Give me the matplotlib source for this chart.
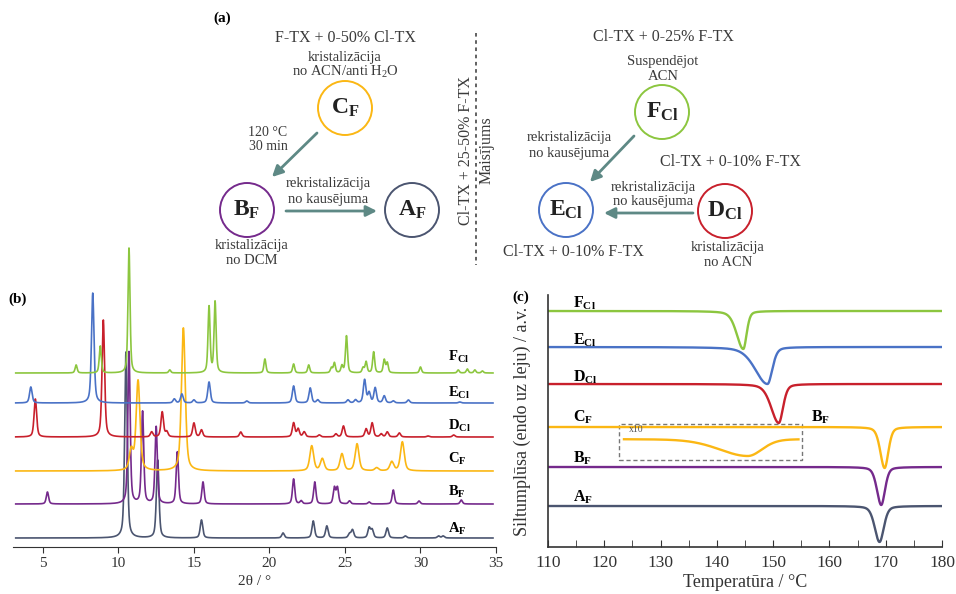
import numpy as np
import matplotlib
matplotlib.use('Agg')
import matplotlib.pyplot as plt
from matplotlib.patches import Circle, Rectangle

plt.rcParams['font.family'] = ['Liberation Serif', 'DejaVu Serif']
plt.rcParams['mathtext.fontset'] = 'custom'
plt.rcParams['mathtext.rm'] = 'Liberation Serif'
plt.rcParams['mathtext.it'] = 'Liberation Serif:italic'
plt.rcParams['mathtext.bf'] = 'Liberation Serif:bold'

# phases, bottom to top
phases = ['A', 'B', 'C', 'D', 'E', 'F']
subs = ['F', 'F', 'F', 'Cl', 'Cl', 'Cl']
colors = ['#4b5570', '#752a8c', '#fbb714', '#c8202c', '#4a72c6', '#8cc63f']

# (b) PXRD peak lists: 2theta and height (a.u.)
af_pos = [10.5, 12.6, 15.5, 20.9, 22.9, 23.8, 25.3, 25.5, 26.6, 26.8, 27.8, 29.0, 31.2, 31.5]
af_int = [186, 78, 18, 5, 17, 12, 4, 8, 10, 8, 10, 2, 2, 2]
bf_pos = [5.3, 10.7, 11.6, 12.5, 13.9, 15.6, 21.6, 22.1, 23.0, 24.3, 24.5, 25.3, 26.6, 28.2, 29.9, 32.7]
bf_int = [12, 152, 92, 77, 52, 22, 25, 3, 22, 16, 16, 3, 2, 14, 3, 4]
cf_pos = [10.85, 11.3, 14.3, 22.8, 23.5, 24.8, 25.8, 27.1, 28.1, 28.8]
cf_int = [20, 90, 143, 25, 12, 17, 27, 3, 9, 29]
dcl_pos = [4.5, 9.0, 12.2, 12.9, 13.2, 15.0, 15.5, 18.1, 21.6, 21.9, 22.3, 23.3, 24.4, 24.9,
           26.4, 26.8, 27.4, 27.8, 28.6, 30.5, 32.2]
dcl_int = [38, 117, 5, 25, 5, 14, 7, 5, 14, 8, 5, 2, 3, 11, 8, 14, 3, 5, 4, 1, 2]
ecl_pos = [4.2, 8.3, 13.7, 14.2, 15.0, 16.0, 18.5, 21.6, 22.7, 23.2, 25.2, 25.7, 26.3, 26.6,
           27.0, 27.6, 28.2, 29.2, 32.6]
ecl_int = [16, 110, 4, 9, 3, 21, 2, 17, 15, 3, 3, 3, 23, 10, 15, 7, 2, 3, 1]
fcl_pos = [7.2, 8.8, 10.7, 13.4, 16.0, 16.4, 19.7, 21.6, 22.6, 24.1, 24.3, 24.8, 25.1, 26.2,
           26.4, 26.9, 27.6, 27.8, 30.0, 32.5, 33.1, 33.6, 34.1]
fcl_int = [8, 27, 125, 3, 66, 71, 14, 9, 8, 5, 10, 7, 37, 5, 11, 21, 13, 10, 6, 3, 4, 3, 2]
xrd_pos = [af_pos, bf_pos, cf_pos, dcl_pos, ecl_pos, fcl_pos]
xrd_int = [af_int, bf_int, cf_int, dcl_int, ecl_int, fcl_int]
xrd_hwhm = [0.1, 0.09, 0.15, 0.1, 0.1, 0.08]
xrd_offset = [9, 43, 76, 110, 144, 174]

# (c) DSC: peak temperature, depth, left/right half widths
dsc_tpeak = [168.9, 169.2, 169.8, 151.0, 149.0, 144.7]
dsc_depth = [36, 38, 41, 39, 37, 38]
dsc_wl = [1.0, 0.9, 0.9, 1.6, 2.6, 1.4]
dsc_wr = [0.9, 0.8, 0.8, 0.9, 1.0, 0.7]
dsc_offset = [41, 80, 120, 163, 200, 236]
# C_F x10 inset
ins_tpeak, ins_depth, ins_wl, ins_wr, ins_offset = 145.5, 17, 6.0, 3.0, 108


def pv(x, c, h, wl, wr, eta=0.5):
    w = np.where(x < c, wl, wr)
    u = (x - c) / w
    return h * (eta / (1 + u ** 2) + (1 - eta) * np.exp(-np.log(2) * u ** 2))


def lab(p, s):
    return r'$\mathbf{%s}_{\mathbf{%s}}$' % (p, s)


fig = plt.figure(figsize=(9.56, 5.94), dpi=100)

# ---------- (a) scheme ----------
axa = fig.add_axes([0, 0, 1, 1])
axa.set_xlim(0, 956)
axa.set_ylim(594, 0)
axa.axis('off')
tc = '#3a3a3a'
ac = '#5e8985'
axa.text(213, 18, '(a)', fontsize=11, fontweight='bold', ha='left', va='center')

circles = {'C': (345, 108, 'F', 2), 'B': (247, 210, 'F', 1), 'A': (412, 210, 'F', 0),
           'F': (662, 112, 'Cl', 5), 'E': (566, 210, 'Cl', 4), 'D': (725, 211, 'Cl', 3)}
for p, (cx, cy, s, ci) in circles.items():
    axa.add_patch(Circle((cx, cy), 27, fill=False, ec=colors[ci], lw=1.4))
    axa.text(cx, cy, lab(p, s), fontsize=17, ha='center', va='center', color='#222')


def txt(x, y, s, fs=10.5):
    axa.text(x, y, s, fontsize=fs, ha='center', va='center', color=tc)


txt(345, 38, 'F-TX + 0-50% Cl-TX', 11.5)
txt(345, 57, 'kristalizācija')
txt(345, 72, r'no ACN/anti H$_2$O')
txt(268, 132, '120 °C', 10)
txt(268, 147, '30 min', 10)
txt(328, 184, 'rekristalizācija')
txt(328, 199, 'no kausējuma')
txt(252, 246, 'kristalizācija')
txt(252, 261, 'no DCM')
txt(663, 37, 'Cl-TX + 0-25% F-TX', 11.5)
txt(663, 62, 'Suspendējot')
txt(663, 77, 'ACN')
txt(569, 137, 'rekristalizācija')
txt(569, 153, 'no kausējuma')
txt(730, 162, 'Cl-TX + 0-10% F-TX', 11.5)
txt(653, 187, 'rekristalizācija')
txt(653, 202, 'no kausējuma')
txt(573, 252, 'Cl-TX + 0-10% F-TX', 11.5)
txt(728, 248, 'kristalizācija')
txt(728, 263, 'no ACN')
axa.text(466, 151, 'Cl-TX + 25-50% F-TX', fontsize=11.5, rotation=90, ha='center', va='center', color=tc)
axa.text(487, 150, 'Maisījums', fontsize=11.5, rotation=90, ha='center', va='center', color=tc)
axa.plot([476, 476], [33, 265], ls=(0, (2, 2)), color='#555555', lw=1.3)

arrows = [((317, 133), (272, 177)), ((286, 211), (377, 211)),
          ((634, 136), (590, 182)), ((693, 213), (604, 213))]
for start, end in arrows:
    axa.annotate('', xy=end, xytext=start,
                 arrowprops=dict(arrowstyle='-|>', color=ac, lw=2, mutation_scale=16,
                                 shrinkA=0, shrinkB=0))

# ---------- (b) PXRD ----------
axb = fig.add_axes([12.7 / 956, 47 / 594, (496 - 12.7) / 956, 289 / 594])
axb.patch.set_alpha(0)
tt = np.linspace(3.2, 34.8, 4000)
for i in range(6):
    y = np.full_like(tt, xrd_offset[i], dtype=float)
    for c, h in zip(xrd_pos[i], xrd_int[i]):
        y += pv(tt, c, h, xrd_hwhm[i], xrd_hwhm[i])
    axb.plot(tt, y, color=colors[i], lw=1.2, clip_on=False)
xrd_lab_y = [18, 55, 88, 121, 154, 190]
for i in range(6):
    axb.text(31.8, xrd_lab_y[i], lab(phases[i], subs[i]), fontsize=10.5, ha='left', va='center')
axb.set_xlim(3, 35)
axb.set_ylim(0, 289)
axb.set_xticks([5, 10, 15, 20, 25, 30, 35])
axb.set_yticks([])
for sp in ['left', 'right', 'top']:
    axb.spines[sp].set_visible(False)
axb.spines['bottom'].set_color('#333333')
axb.tick_params(axis='x', labelsize=11, direction='out', length=4, colors='#333333')
axb.set_xlabel('2θ / °', fontsize=11, labelpad=3, color='#333333')
fig.text(8 / 956, 1 - 299 / 594, '(b)', fontsize=11, fontweight='bold', va='center')

# ---------- (c) DSC ----------
axc = fig.add_axes([548 / 956, 47 / 594, 394 / 956, 252 / 594])
axc.patch.set_alpha(0)
T = np.linspace(110, 180, 3000)
for i in range(6):
    y = dsc_offset[i] - pv(T, dsc_tpeak[i], dsc_depth[i], dsc_wl[i], dsc_wr[i], 0.35)
    axc.plot(T, y, color=colors[i], lw=1.7)
Ti = np.linspace(123.5, 154.5, 600)
axc.plot(Ti, ins_offset - pv(Ti, ins_tpeak, ins_depth, ins_wl, ins_wr, 0.2), color=colors[2], lw=1.7)
axc.add_patch(Rectangle((122.6, 87), 155.1 - 122.6, 36, fill=False, ec='#777777',
                        ls=(0, (3, 2)), lw=1))
axc.text(124.4, 117, 'x10', fontsize=7, color='#555555', ha='left', va='center')
dsc_lab_y = [50, 89, 130, 170, 207, 244]
for i in range(6):
    axc.text(114.4, dsc_lab_y[i], lab(phases[i], subs[i]), fontsize=11.5, ha='left', va='center')
axc.text(156.7, 130, lab('B', 'F'), fontsize=11.5, ha='left', va='center')
axc.set_xlim(110, 180)
axc.set_ylim(0, 252)
axc.set_xticks(np.arange(110, 181, 10))
axc.set_xticks(np.arange(115, 180, 10), minor=True)
axc.set_yticks([])
for sp in ['right', 'top']:
    axc.spines[sp].set_visible(False)
for sp in ['left', 'bottom']:
    axc.spines[sp].set_color('#333333')
    axc.spines[sp].set_linewidth(1.2)
axc.tick_params(axis='x', which='both', direction='in', length=5, labelsize=12.5,
                colors='#333333', pad=6)
axc.set_xlabel('Temperatūra / °C', fontsize=13, labelpad=2, color='#333333')
axc.set_ylabel('Siltumplūsa (endo uz leju) / a.v.', fontsize=13, labelpad=12, color='#333333')
fig.text(512 / 956, 1 - 297 / 594, '(c)', fontsize=11, fontweight='bold', va='center')

fig.savefig('out.png', dpi=100)
